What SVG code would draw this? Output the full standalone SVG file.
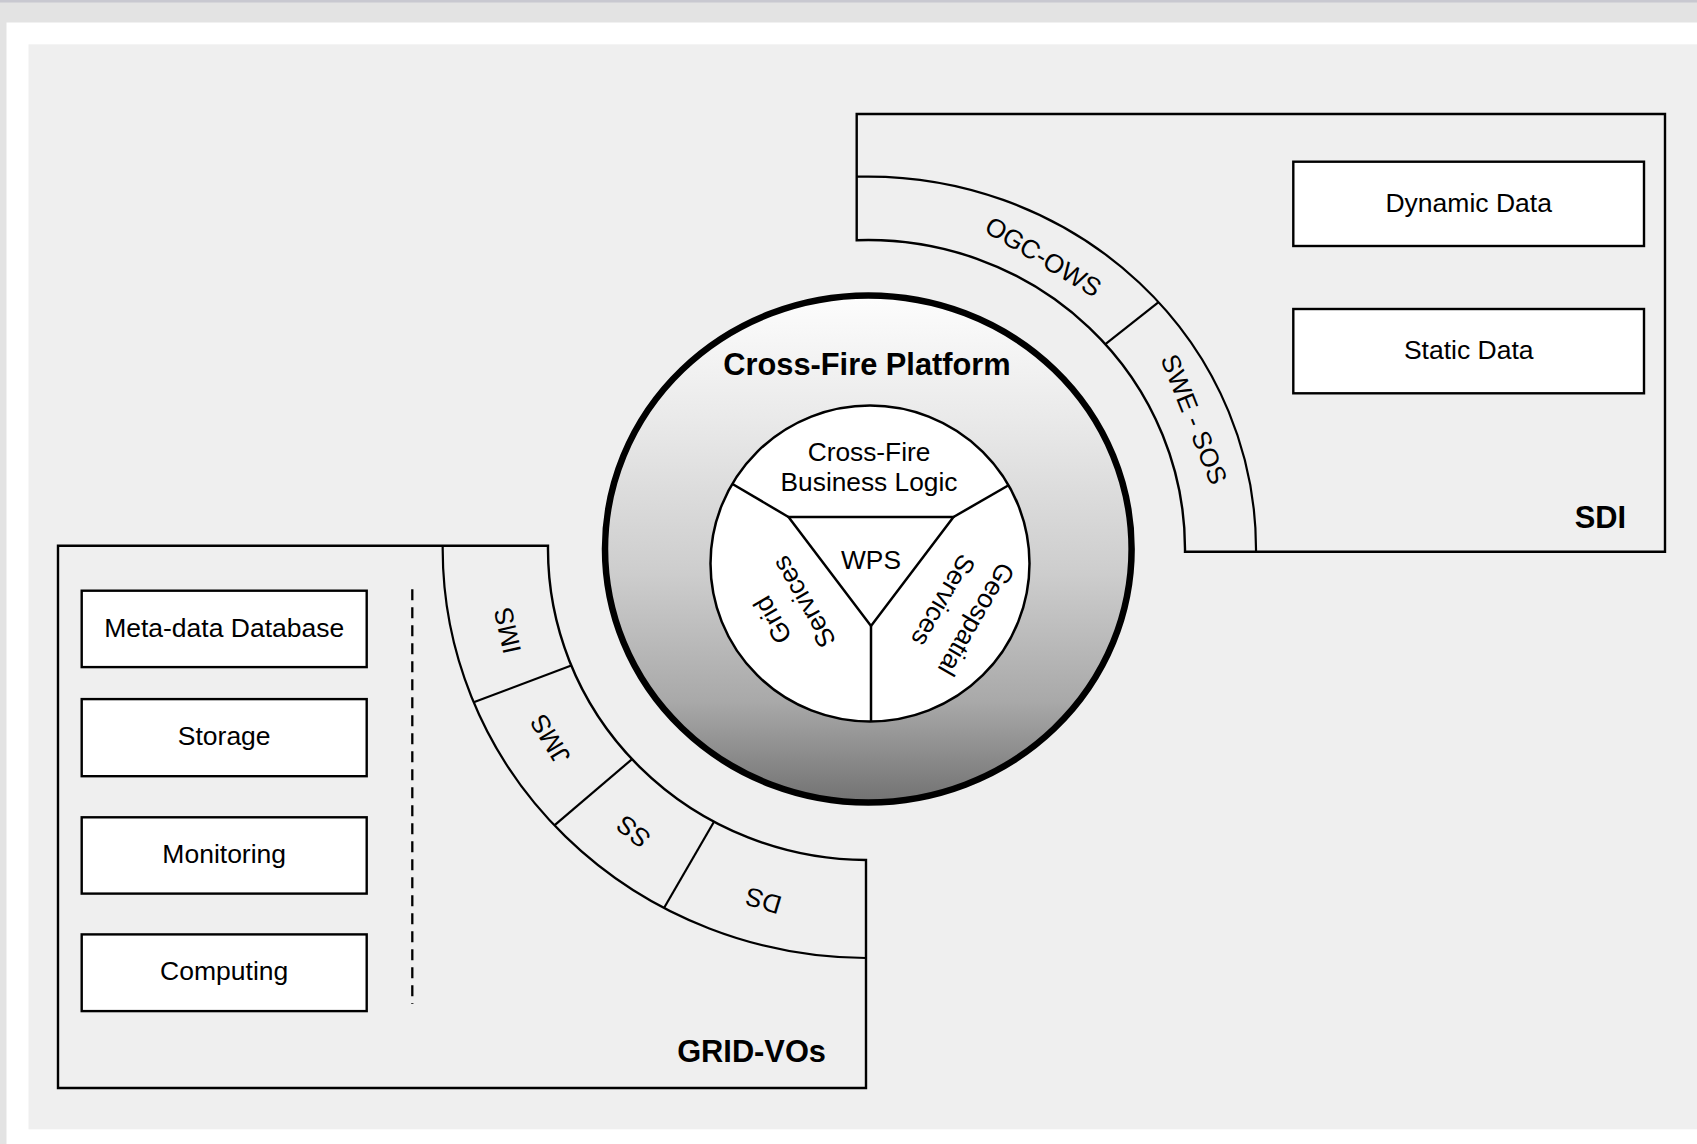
<svg xmlns="http://www.w3.org/2000/svg" width="1697" height="1144" viewBox="0 0 1697 1144">
  <defs>
    <linearGradient id="ringGrad" x1="0" y1="0" x2="0" y2="1">
      <stop offset="0" stop-color="#fdfdfd"/>
      <stop offset="0.25" stop-color="#e9e9e9"/>
      <stop offset="0.55" stop-color="#cdcdcd"/>
      <stop offset="0.8" stop-color="#a9a9a9"/>
      <stop offset="1" stop-color="#727272"/>
    </linearGradient>
  </defs>
  <style>
    .frame { fill: #efefef; stroke: #000; stroke-width: 2.4; }
    .line { fill: none; stroke: #000; stroke-width: 2.2; }
    .box { fill: #fff; stroke: #000; stroke-width: 2.4; }
    .lbl { font-family: "Liberation Sans", Arial, sans-serif; font-size: 26.5px; fill: #000; text-anchor: middle; }
    .clbl { font-family: "Liberation Sans", Arial, sans-serif; font-size: 26.3px; fill: #000; text-anchor: middle; }
    .blbl { font-family: "Liberation Sans", Arial, sans-serif; font-size: 26px; fill: #000; text-anchor: middle; }
    .title { font-family: "Liberation Sans", Arial, sans-serif; font-size: 30.8px; font-weight: bold; fill: #000; }
  </style>

  <!-- page background -->
  <rect x="0" y="0" width="1697" height="1144" fill="#e3e3e3"/>
  <rect x="0" y="0" width="1697" height="2.5" fill="#c8c8d0"/>
  <rect x="6.5" y="22.5" width="1690.5" height="1121.5" fill="#ffffff"/>
  <rect x="28.5" y="44.3" width="1668.5" height="1085" fill="#efefef"/>

  <!-- SDI -->
  <g id="sdi">
    <path class="frame" d="M 856.7 240.2 L 856.7 114 L 1665 114 L 1665 551.7 L 1185 551.7 A 317 309 0 0 0 856.7 240.2 Z"/>
    <path class="line" d="M 856.7 176.7 A 388 372.5 0 0 1 1256 551.7"/>
    <line class="line" x1="1105.4" y1="344.2" x2="1158.6" y2="302.2"/>
    <text class="blbl" x="1043.3" y="256.7" dy="0.35em" transform="rotate(31 1043.3 256.7)">OGC-OWS</text>
    <text class="blbl" x="1194.2" y="419.2" dy="0.35em" transform="rotate(68.3 1194.2 419.2)">SWE - SOS</text>
    <text class="title" x="1626" y="527.7" text-anchor="end">SDI</text>
  </g>
  <g id="dynamic-data">
    <rect class="box" x="1293.3" y="161.7" width="350.7" height="84.3"/>
    <text class="lbl" x="1468.7" y="212">Dynamic Data</text>
  </g>
  <g id="static-data">
    <rect class="box" x="1293.3" y="309" width="350.7" height="84.3"/>
    <text class="lbl" x="1468.7" y="358.6">Static Data</text>
  </g>

  <!-- GRID-VOs -->
  <g id="grid-vos">
    <path class="frame" d="M 548 545.7 L 58 545.7 L 58 1088 L 866 1088 L 866 860 A 320 311 0 0 1 548 545.7 Z"/>
    <path class="line" d="M 442.7 545.7 A 425.3 409 0 0 0 866 958"/>
    <line class="line" x1="571.3" y1="665.5" x2="473.7" y2="702.2"/>
    <line class="line" x1="632.1" y1="759.1" x2="554.4" y2="825.3"/>
    <line class="line" x1="714" y1="821.8" x2="664" y2="908"/>
    <text class="blbl" x="507.3" y="630.7" dy="0.35em" transform="rotate(257.2 507.3 630.7)">IMS</text>
    <text class="blbl" x="550" y="739" dy="0.35em" transform="rotate(239.1 550 739)">JMS</text>
    <text class="blbl" x="633.3" y="831.7" dy="0.35em" transform="rotate(219.7 633.3 831.7)">SS</text>
    <text class="blbl" x="763.3" y="900.7" dy="0.35em" transform="rotate(196.6 763.3 900.7)">DS</text>
    <line x1="412.3" y1="589.3" x2="412.3" y2="1004" stroke="#000" stroke-width="2.3" stroke-dasharray="11 7"/>
    <text class="title" x="826" y="1061.7" text-anchor="end">GRID-VOs</text>
  </g>
  <g id="metadata-db">
    <rect class="box" x="81.7" y="590.7" width="285" height="76.4"/>
    <text class="lbl" x="224.2" y="636.8">Meta-data Database</text>
  </g>
  <g id="storage">
    <rect class="box" x="81.7" y="699.1" width="285" height="77.1"/>
    <text class="lbl" x="224.2" y="745.3">Storage</text>
  </g>
  <g id="monitoring">
    <rect class="box" x="81.7" y="817.3" width="285" height="76.3"/>
    <text class="lbl" x="224.2" y="863.3">Monitoring</text>
  </g>
  <g id="computing">
    <rect class="box" x="81.7" y="934.4" width="285" height="76.7"/>
    <text class="lbl" x="224.2" y="980.3">Computing</text>
  </g>

  <!-- Cross-Fire Platform -->
  <g id="platform">
    <ellipse cx="868.3" cy="549" rx="263.3" ry="253.5" fill="url(#ringGrad)" stroke="#000" stroke-width="6.5"/>
    <text class="title" x="867" y="374.5" text-anchor="middle">Cross-Fire Platform</text>
    <ellipse cx="870" cy="563.5" rx="159.5" ry="158" fill="#fff" stroke="#000" stroke-width="2.5"/>
    <g id="wps-divisions" fill="none" stroke="#000" stroke-width="2.5" stroke-linejoin="miter">
      <polygon points="788.5,517 953.5,517 871,626"/>
      <line x1="732.5" y1="484" x2="788.5" y2="517"/>
      <line x1="1009" y1="485" x2="953.5" y2="517"/>
      <line x1="871" y1="626" x2="871" y2="721.5"/>
    </g>
    <text class="clbl" x="869" y="461">Cross-Fire</text>
    <text class="clbl" x="869" y="491">Business Logic</text>
    <text class="clbl" x="871" y="569">WPS</text>
    <g transform="rotate(240 788 611)">
      <text class="clbl" x="788" y="593" dy="0.35em">Grid</text>
      <text class="clbl" x="788" y="629" dy="0.35em">Services</text>
    </g>
    <g transform="rotate(120 960 610)">
      <text class="clbl" x="960" y="591" dy="0.35em">Geospatial</text>
      <text class="clbl" x="960" y="629" dy="0.35em">Services</text>
    </g>
  </g>
</svg>
